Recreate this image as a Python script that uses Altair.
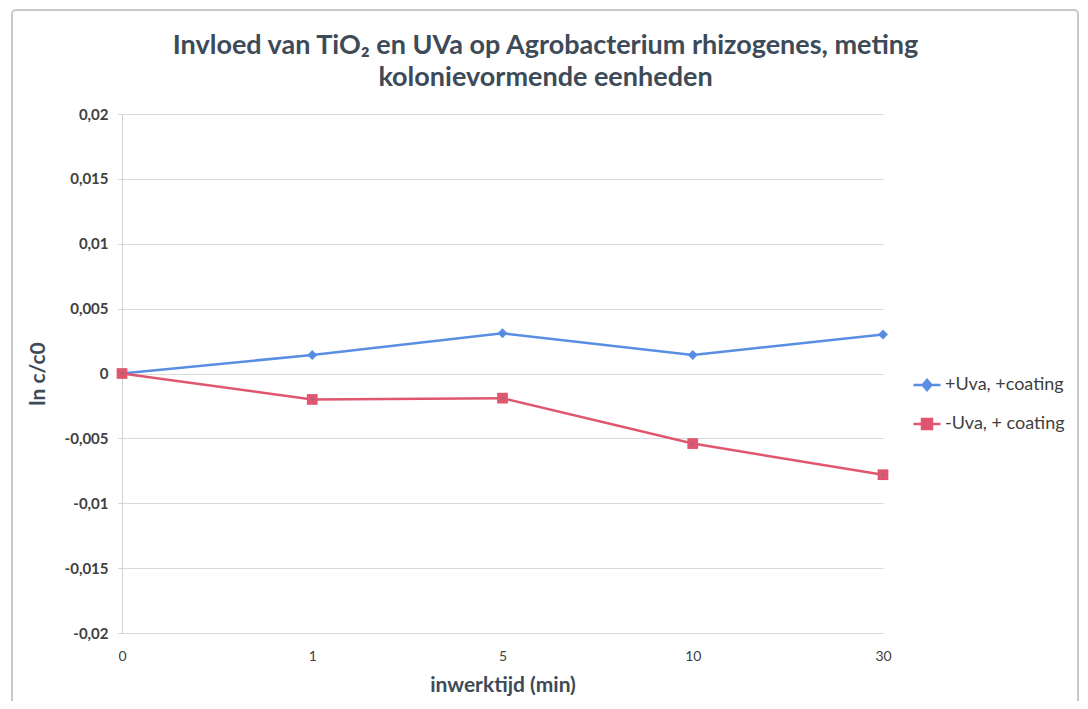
import altair as alt
import pandas as pd

times = ["0", "1", "5", "10", "30"]
series_names = ["+Uva, +coating", "-Uva, + coating"]
uva_plus = [0.0, 0.00143, 0.0031, 0.00143, 0.003]
uva_minus = [0.0, -0.0020, -0.0019, -0.0054, -0.0078]
y_ticks = [0.02, 0.015, 0.01, 0.005, 0.0, -0.005, -0.01, -0.015, -0.02]
colors = ["#5a8ee2", "#e0566e"]
legend_paths = [
    "M-1,0H1M0,-0.38L0.32,0L0,0.38L-0.32,0Z",
    "M-1,0H1M-0.37,-0.37H0.37V0.37H-0.37Z",
]

rows = []
for t, v in zip(times, uva_plus):
    rows.append({"t": t, "v": v, "s": series_names[0]})
for t, v in zip(times, uva_minus):
    rows.append({"t": t, "v": v, "s": series_names[1]})
df = pd.DataFrame(rows)

FONT = "Lato"
AXCOL = "#3d4a57"

x = alt.X("t:O", sort=times, scale=alt.Scale(type="point", padding=0),
          axis=alt.Axis(title="inwerktijd (min)", labelAngle=0, labelFontSize=14,
                        labelColor="#404040", labelFont=FONT, labelPadding=16,
                        titleFontSize=21, titleFont=FONT, titleFontWeight="bold",
                        titleColor=AXCOL, titlePadding=11, domain=False, ticks=False,
                        grid=False))
y = alt.Y("v:Q", scale=alt.Scale(domain=[-0.02, 0.02], nice=False),
          axis=alt.Axis(title="ln c/c0", values=y_ticks, labelFontSize=15,
                        labelColor="#404040", labelFont=FONT, labelFontWeight="bold",
                        labelExpr="replace(replace(format(datum.value, '~g'), '.', ','), '\u2212', '-')",
                        labelPadding=10, tickSize=4, tickColor="#d0d0d0",
                        domainColor="#d0d0d0", gridColor="#d9d9d9",
                        titleFontSize=21, titleFont=FONT, titleFontWeight="bold",
                        titleColor=AXCOL, titlePadding=16))

color_scale = alt.Scale(domain=series_names, range=colors)
leg = alt.Legend(title=None, orient="none", legendX=790, legendY=256)

base = alt.Chart(df)
lines = base.mark_line(strokeWidth=2.5).encode(
    x=x, y=y, color=alt.Color("s:N", scale=color_scale, legend=leg))
pts_blue = base.transform_filter(alt.datum.s == series_names[0]).mark_point(
    filled=True, shape="diamond", size=100, opacity=1).encode(
    x=x, y=y, color=alt.Color("s:N", scale=color_scale, legend=leg))
pts_red = base.transform_filter(alt.datum.s == series_names[1]).mark_point(
    filled=True, shape="square", size=115, opacity=1).encode(
    x=x, y=y, color=alt.Color("s:N", scale=color_scale, legend=leg))

legend_layer = base.mark_point(filled=True).encode(
    x=x, y=y,
    shape=alt.Shape("s:N", scale=alt.Scale(domain=series_names, range=legend_paths),
                    legend=leg),
)

frame = alt.Chart(pd.DataFrame({"k": [0]})).mark_rect(
    fill=None, stroke="#c8c8c8", strokeWidth=2, cornerRadius=4).encode(
    x=alt.value(-110), x2=alt.value(956), y=alt.value(-104), y2=alt.value(600))

chart = alt.layer(frame, lines, pts_blue, pts_red, legend_layer).properties(
    width=761, height=519,
    padding={"left": 114, "top": 106, "right": 197, "bottom": 68},
    autosize=alt.AutoSizeParams(type="none"),
    title=alt.Title(
        text=["Invloed van TiO\u2082 en UVa op Agrobacterium rhizogenes, meting",
              "kolonievormende eenheden"],
        fontSize=27, font=FONT, fontWeight="bold", color=AXCOL,
        anchor="middle", dx=43, dy=101, offset=18, lineHeight=32),
).configure_legend(
    symbolSize=729, symbolStrokeWidth=2.5,
    labelFontSize=18, labelFont=FONT, labelColor="#404040", rowPadding=13,
    labelOffset=3, symbolOpacity=1,
).configure_view(stroke=None)

chart.save("out.html", embed_options={"renderer": "svg", "actions": False})
